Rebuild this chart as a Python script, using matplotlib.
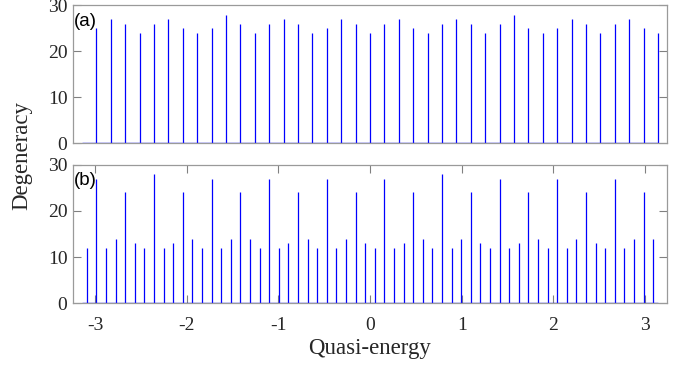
import numpy as np
import matplotlib.pyplot as plt

# Degeneracy of each quasi-energy level
# (a): 40 levels, spacing 2*pi/40, from -pi+2pi/40 up to pi
deg_a = [25, 27, 26, 24, 26, 27, 25, 24, 25, 28,
         26, 24, 26, 27, 26, 24, 25, 27, 26, 24,
         26, 27, 25, 24, 26, 27, 26, 24, 26, 28,
         25, 24, 25, 27, 26, 24, 26, 27, 25, 24]
# (b): 60 levels, spacing 2*pi/60, offset by half a step
deg_b = [12, 27, 12, 14, 24, 13, 12, 28, 12, 13,
         24, 14, 12, 27, 12, 14, 24, 14, 12, 27,
         12, 13, 24, 14, 12, 27, 12, 14, 24, 13,
         12, 27, 12, 13, 24, 14, 12, 28, 12, 14,
         24, 13, 12, 27, 12, 13, 24, 14, 12, 27,
         12, 14, 24, 13, 12, 27, 12, 14, 24, 14]

x_a = -np.pi + 2 * np.pi * np.arange(1, len(deg_a) + 1) / len(deg_a)
x_b = -np.pi + 2 * np.pi * (np.arange(1, len(deg_b) + 1) - 0.5) / len(deg_b)

xticks = [-3, -2, -1, 0, 1, 2, 3]
xticklabels = ["-3", "-2", "-1", "0", "1", "2", "3"]
yticks = [0, 10, 20, 30]

serif = ["Liberation Serif", "DejaVu Serif"]
sans = ["Liberation Sans", "DejaVu Sans"]
blue = "#0000ff"
spine_col = "#9a9a9a"
txt_col = "#262626"

fig = plt.figure(figsize=(6.88, 3.66), dpi=100)
ax_a = fig.add_axes([73 / 688, 1 - 143.3 / 366, 594 / 688, 138 / 366])
ax_b = fig.add_axes([73 / 688, 1 - 303.3 / 366, 594 / 688, 138.6 / 366])

for ax, x, y, tag in [(ax_a, x_a, deg_a, "(a)"), (ax_b, x_b, deg_b, "(b)")]:
    ax.vlines(x, 0, y, color=blue, linewidth=0.9)
    ax.hlines(0, -np.pi, np.pi, color=blue, linewidth=1.0)
    ax.set_xlim(-3.24, 3.24)
    ax.set_ylim(0, 30)
    ax.set_yticks(yticks)
    ax.set_yticklabels([str(v) for v in yticks], family=serif, fontsize=14, color=txt_col)
    ax.tick_params(direction="in", length=6, width=0.8, color="#808080",
                   top=True, right=True)
    ax.tick_params(axis="y", pad=4)
    ax.tick_params(axis="x", pad=10)
    for s in ax.spines.values():
        s.set_color(spine_col)
        s.set_linewidth(0.9)
    ax.text(0.002, 0.945, tag, transform=ax.transAxes, ha="left", va="top",
            family=sans, fontsize=13.5)

ax_a.set_xticks([])
ax_b.set_xticks(xticks)
ax_b.set_xticklabels(xticklabels, family=serif, fontsize=14, color=txt_col)
ax_b.set_xlabel("Quasi-energy", family=serif, fontsize=16.5, color=txt_col, labelpad=3)

fig.text(22 / 688, 1 - 155 / 366, "Degeneracy", rotation=90, ha="center", va="center",
         family=serif, fontsize=16.5, color=txt_col)

fig.savefig("out.png", dpi=100)
